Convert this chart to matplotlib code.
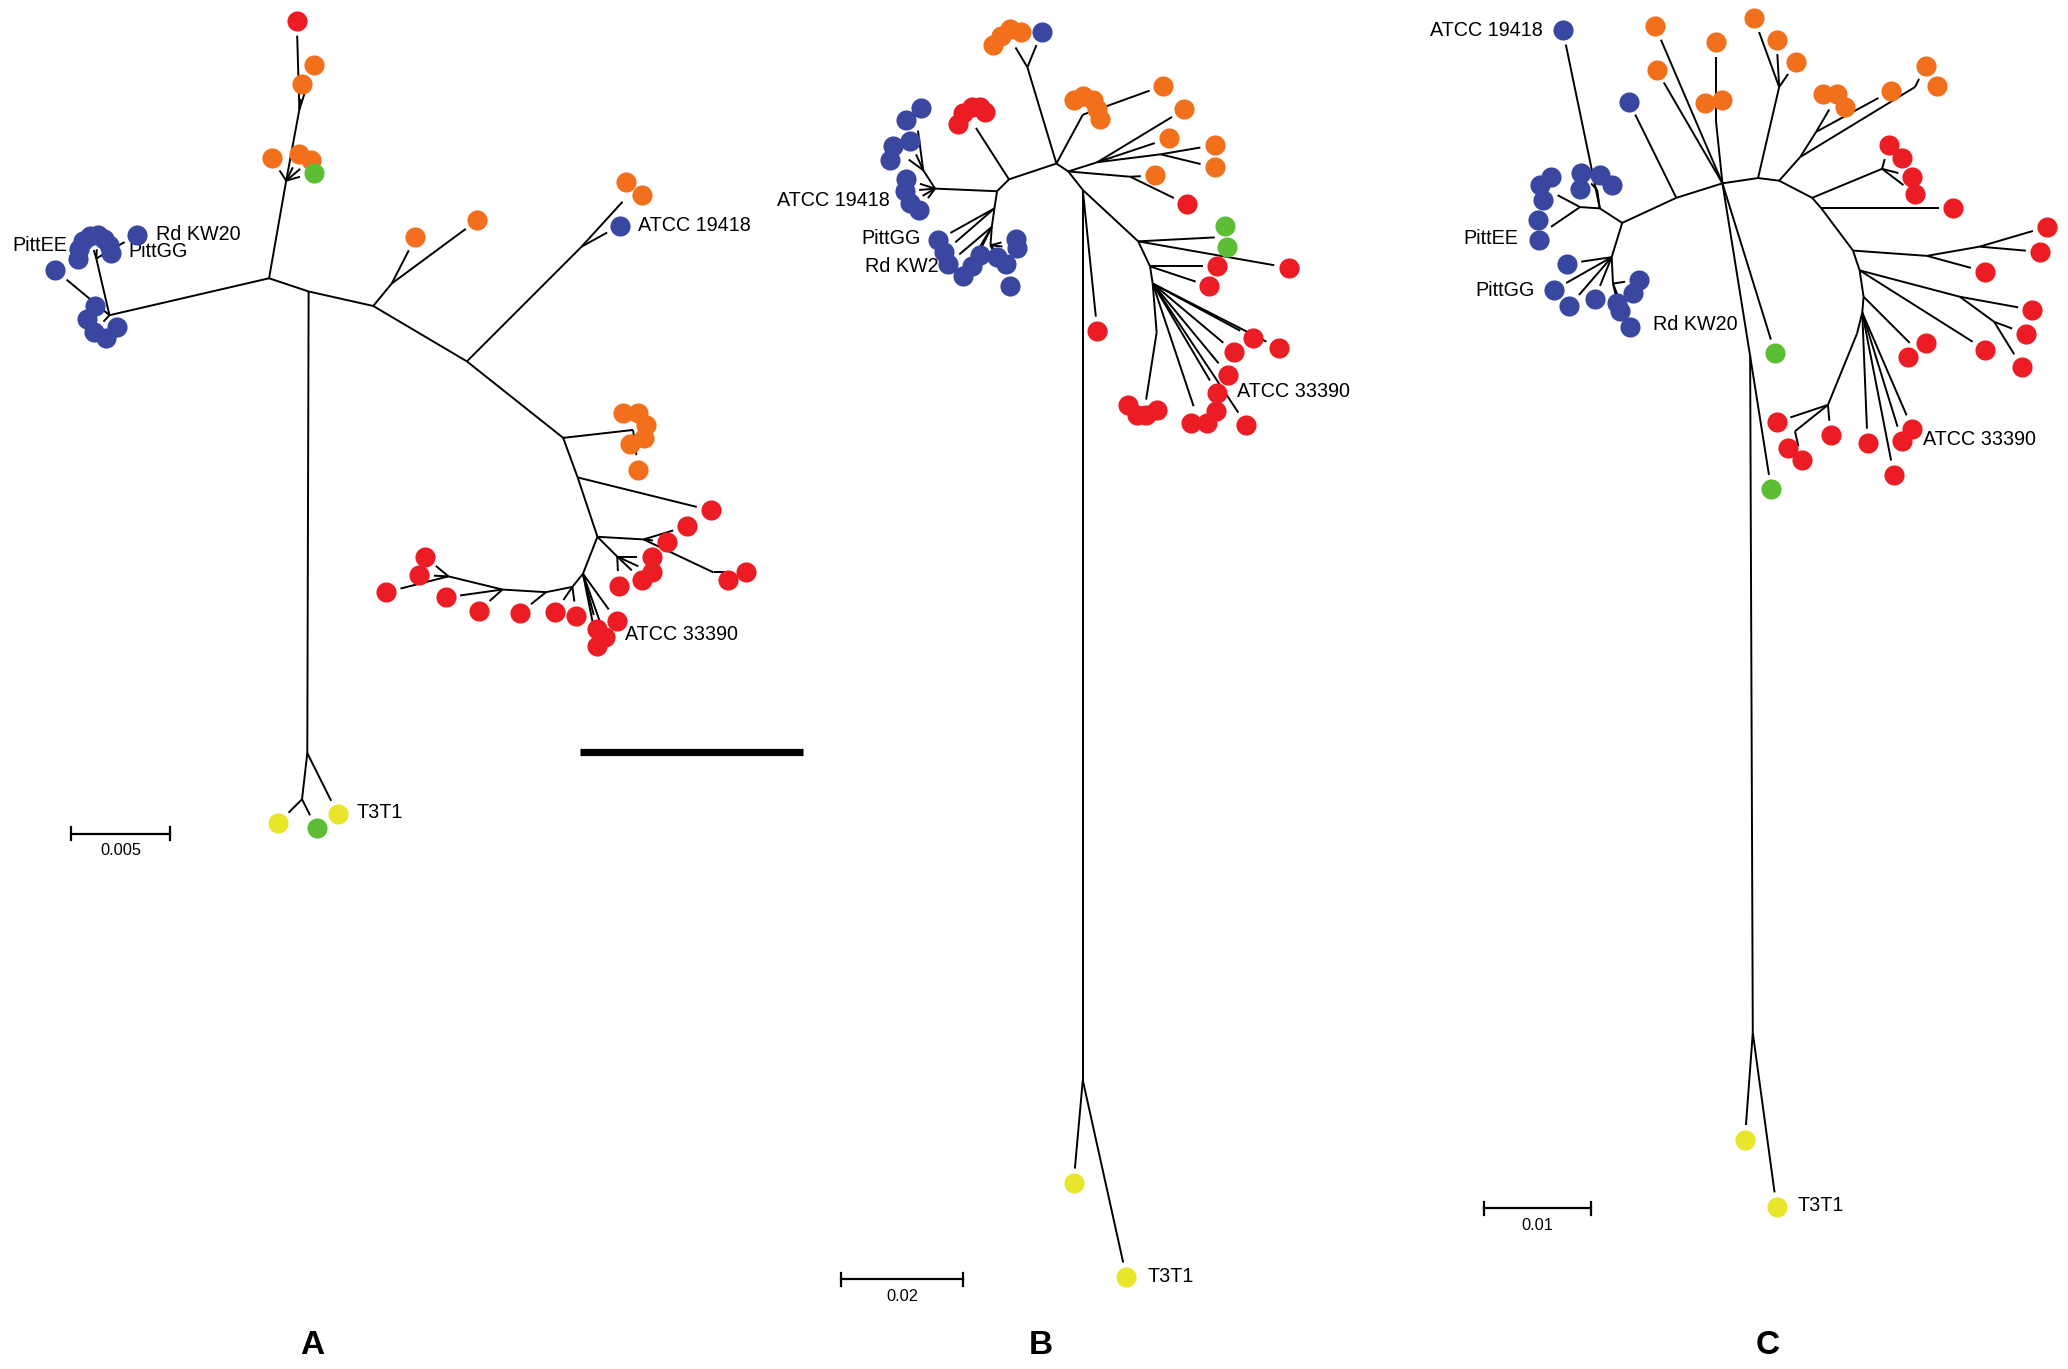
import math
import matplotlib
matplotlib.use("Agg")
from matplotlib import pyplot as plt

# three unrooted trees (A, B, C) - coordinates
# (units = picture pixels at 1568 x 1038, y grows downwards)

COLOURS = {'r': '#EC1C24', 'o': '#F26F1C', 'b': '#3A47A1',
           'g': '#5DBE36', 'y': '#E7E62B'}

# ---------------- panel A ----------------
A_NODES = {
    'a0': (None, 204, 211), 'ab': ('a0', 83, 239), 'ab2': ('ab', 73, 196),
    'au': ('a0', 217, 137), 'au2': ('au', 227, 83),
    'a1': ('a0', 234, 221), 'a2': ('a1', 283, 232), 'a2o': ('a2', 297, 215),
    'a3': ('a2', 354, 274), 'a3b': ('a3', 441, 187), 'a3c': ('a3b', 472, 153),
    'a4': ('a3', 427, 332), 'a4o': ('a4', 480, 326), 'a5': ('a4', 438, 362),
    'a6': ('a5', 453, 407), 'a7': ('a6', 488, 409), 'a7b': ('a7', 541, 434),
    'a6b': ('a6', 468, 422), 'a8': ('a6', 442, 435), 'a9': ('a8', 434, 445),
    'a10': ('a9', 414, 449), 'a11': ('a10', 381, 447), 'a12': ('a11', 340, 437),
    'at1': ('a1', 233, 571), 'at2': ('at1', 229, 606),
}
A_LEAVES = [
    ('ab2', 'b', 59, 196), ('ab2', 'b', 60, 189), ('ab2', 'b', 63, 183),
    ('ab2', 'b', 68, 179), ('ab2', 'b', 74, 178), ('ab2', 'b', 79, 181),
    ('ab2', 'b', 83, 186), ('ab2', 'b', 84, 192), ('ab2', 'b', 104, 178),
    ('ab', 'b', 42, 205), ('ab', 'b', 72, 232), ('ab', 'b', 66, 242),
    ('ab', 'b', 71, 252), ('ab', 'b', 80, 256), ('ab', 'b', 89, 248),
    ('au', 'o', 206, 120), ('au', 'o', 227, 117), ('au', 'o', 236, 121),
    ('au', 'g', 238, 131),
    ('au2', 'r', 225, 16), ('au2', 'o', 229, 64), ('au2', 'o', 238, 49),
    ('a2o', 'o', 315, 180), ('a2o', 'o', 362, 167),
    ('a3b', 'b', 470, 171), ('a3c', 'o', 475, 138), ('a3c', 'o', 487, 148),
    ('a4o', 'o', 472, 313), ('a4o', 'o', 484, 313), ('a4o', 'o', 490, 322),
    ('a4o', 'o', 488, 332), ('a4o', 'o', 478, 337), ('a4o', 'o', 484, 356),
    ('a5', 'r', 539, 387), ('a7', 'r', 521, 399), ('a7', 'r', 506, 411),
    ('a7b', 'r', 552, 440), ('a7b', 'r', 566, 434),
    ('a6b', 'r', 494, 422), ('a6b', 'r', 494, 434), ('a6b', 'r', 487, 440),
    ('a6b', 'r', 469, 444),
    ('a8', 'r', 468, 471), ('a8', 'r', 453, 477), ('a8', 'r', 459, 483),
    ('a8', 'r', 453, 490),
    ('a9', 'r', 437, 467), ('a9', 'r', 421, 464), ('a10', 'r', 394, 465),
    ('a11', 'r', 363, 463), ('a11', 'r', 338, 453),
    ('a12', 'r', 322, 422), ('a12', 'r', 318, 436), ('a12', 'r', 293, 449),
    ('at1', 'y', 256, 617), ('at2', 'y', 211, 624), ('at2', 'g', 240, 628),
]

# ---------------- panel B ----------------
B_NODES = {
    'b0': (None, 801, 124), 'bu': ('b0', 779, 51), 'buo': ('bu', 770, 36),
    'bL1': ('b0', 765, 136), 'bLr': ('bL1', 740, 97), 'bL2': ('bL1', 756, 145),
    'bL3': ('bL2', 709, 143), 'bL4': ('bL3', 700, 129), 'bL5': ('bL4', 689, 121),
    'bL6': ('bL4', 696, 99), 'bL7': ('bL2', 754, 158), 'bL8': ('bL7', 752, 172),
    'bL9': ('bL8', 751, 186),
    'bo1': ('b0', 821, 87), 'bR1': ('b0', 810, 130), 'bR2': ('bR1', 832, 123),
    'bR3': ('bR2', 880, 117), 'bR4': ('bR1', 857, 134),
    'bV': ('bR1', 821, 144), 'bV2': ('bV', 821, 819),
    'bR5': ('bV', 863, 183), 'bG': ('bR5', 921, 180), 'bR6': ('bR5', 872, 202),
    'bR7': ('bR6', 874, 215), 'bR8': ('bR7', 877, 252), 'bR9': ('bR8', 869, 303),
    'bR10': ('bR7', 905, 308),
}
B_LEAVES = [
    ('bu', 'b', 790, 24),
    ('buo', 'o', 753, 34), ('buo', 'o', 759, 27), ('buo', 'o', 766, 22),
    ('buo', 'o', 774, 24),
    ('bLr', 'r', 726, 94), ('bLr', 'r', 730, 86), ('bLr', 'r', 737, 81),
    ('bLr', 'r', 743, 81), ('bLr', 'r', 747, 85),
    ('bL3', 'b', 687, 136), ('bL3', 'b', 686, 145), ('bL3', 'b', 690, 154),
    ('bL3', 'b', 697, 159),
    ('bL5', 'b', 677, 111), ('bL5', 'b', 675, 121), ('bL4', 'b', 690, 107),
    ('bL6', 'b', 687, 91), ('bL6', 'b', 698, 82),
    ('bL7', 'b', 711, 182), ('bL7', 'b', 716, 191),
    ('bL8', 'b', 719, 200), ('bL8', 'b', 730, 209), ('bL8', 'b', 737, 202),
    ('bL9', 'b', 743, 193), ('bL9', 'b', 756, 195), ('bL9', 'b', 763, 200),
    ('bL9', 'b', 770, 181), ('bL9', 'b', 771, 188), ('bL9', 'b', 766, 217),
    ('bo1', 'o', 814, 76), ('bo1', 'o', 821, 73), ('bo1', 'o', 829, 76),
    ('bo1', 'o', 832, 83), ('bo1', 'o', 834, 90), ('bo1', 'o', 882, 65),
    ('bR2', 'o', 898, 83), ('bR2', 'o', 886, 105),
    ('bR3', 'o', 921, 110), ('bR3', 'o', 921, 127),
    ('bR4', 'o', 876, 133), ('bR4', 'r', 900, 155),
    ('bV', 'r', 832, 251),
    ('bV2', 'y', 814, 897), ('bV2', 'y', 854, 968),
    ('bG', 'g', 929, 171), ('bG', 'g', 930, 187),
    ('bR5', 'r', 977, 203), ('bR6', 'r', 923, 202), ('bR6', 'r', 917, 217),
    ('bR7', 'r', 950, 256), ('bR7', 'r', 970, 264), ('bR7', 'r', 936, 267),
    ('bR7', 'r', 931, 284), ('bR7', 'r', 923, 298), ('bR7', 'r', 945, 322),
    ('bR9', 'r', 855, 307), ('bR9', 'r', 862, 315), ('bR9', 'r', 869, 315),
    ('bR9', 'r', 877, 311),
    ('bR10', 'r', 903, 321), ('bR10', 'r', 915, 321), ('bR10', 'r', 922, 312),
]

# ---------------- panel C ----------------
C_NODES = {
    'cH': (None, 1306, 139), 'cA': ('cH', 1271, 150), 'c1': ('cA', 1230, 169),
    'c2': ('c1', 1213, 158), 'c3': ('c2', 1198, 157), 'c3a': ('c3', 1181, 148),
    'c3b': ('c3', 1176, 172), 'c2a': ('c2', 1211, 144), 'c4': ('c1', 1222, 195),
    'c4a': ('c4', 1223, 215), 'c5': ('cH', 1301, 91),
    'cV': ('cH', 1327, 270), 'cT': ('cV', 1329, 783),
    'cB1': ('cH', 1333, 135), 'cB2': ('cB1', 1349, 137), 'cB3': ('cB2', 1374, 150),
    'cB4': ('cB3', 1381, 158), 'cB5': ('cB4', 1405, 190), 'cB6': ('cB5', 1410, 205),
    'cB7': ('cB6', 1413, 225), 'cB8': ('cB7', 1412, 237), 'cB9': ('cB8', 1408, 253),
    'cB10': ('cB9', 1386, 307),
    'cO1': ('cB1', 1349, 66), 'cO2': ('cB2', 1365, 119), 'cO3': ('cO2', 1377, 100),
    'cO4': ('cO3', 1387, 83), 'cO5': ('cO2', 1452, 66),
    'cR1': ('cB3', 1427, 128), 'cR3': ('cB5', 1461, 194), 'cR2': ('cR3', 1501, 187),
    'cR4': ('cB6', 1486, 225), 'cR5': ('cR4', 1512, 244), 'cR6': ('cB7', 1448, 260),
    'cR7': ('cB10', 1361, 327),
}
C_LEAVES = [
    ('cH', 'o', 1255, 20), ('cH', 'o', 1256, 53), ('cH', 'g', 1346, 268),
    ('cA', 'b', 1235, 77), ('c2', 'b', 1185, 23),
    ('c3a', 'b', 1170, 152), ('c3a', 'b', 1168, 140), ('c3a', 'b', 1176, 134),
    ('c3b', 'b', 1166, 167), ('c3b', 'b', 1167, 182),
    ('c2a', 'b', 1199, 131), ('c2a', 'b', 1198, 143), ('c2a', 'b', 1213, 133),
    ('c2a', 'b', 1222, 140),
    ('c4', 'b', 1188, 200), ('c4', 'b', 1178, 220), ('c4', 'b', 1190, 232),
    ('c4', 'b', 1209, 227),
    ('c4a', 'b', 1226, 230), ('c4a', 'b', 1238, 222), ('c4a', 'b', 1243, 212),
    ('c4a', 'b', 1228, 236), ('c4a', 'b', 1236, 248),
    ('cV', 'g', 1343, 371), ('cT', 'y', 1323, 864), ('cT', 'y', 1347, 915),
    ('c5', 'o', 1293, 78), ('c5', 'o', 1306, 76), ('c5', 'o', 1301, 32),
    ('cO1', 'o', 1330, 14), ('cO1', 'o', 1347, 30), ('cO1', 'o', 1362, 47),
    ('cO4', 'o', 1382, 71), ('cO4', 'o', 1393, 71), ('cO4', 'o', 1399, 81),
    ('cO3', 'o', 1434, 69), ('cO5', 'o', 1460, 50), ('cO5', 'o', 1469, 65),
    ('cR1', 'r', 1432, 110), ('cR1', 'r', 1442, 120), ('cR1', 'r', 1450, 134),
    ('cR1', 'r', 1452, 147),
    ('cB4', 'r', 1481, 158), ('cR2', 'r', 1552, 172), ('cR2', 'r', 1547, 191),
    ('cR3', 'r', 1505, 206), ('cR4', 'r', 1541, 235),
    ('cR5', 'r', 1536, 253), ('cR5', 'r', 1533, 278), ('cB6', 'r', 1505, 265),
    ('cR6', 'r', 1447, 271), ('cR6', 'r', 1460, 260),
    ('cB8', 'r', 1450, 325), ('cB8', 'r', 1442, 334), ('cB8', 'r', 1436, 360),
    ('cB8', 'r', 1416, 336),
    ('cB10', 'r', 1388, 330), ('cB10', 'r', 1347, 320),
    ('cR7', 'r', 1356, 340), ('cR7', 'r', 1366, 349),
]

# strain labels: text, x, y, alignment
LABELS = [
    ('PittEE', 51, 186, 'right'), ('Rd KW20', 118, 178, 'left'),
    ('PittGG', 97, 191, 'left'), ('ATCC 19418', 484, 171, 'left'),
    ('ATCC 33390', 474, 481, 'left'), ('T3T1', 270, 616, 'left'),
    ('ATCC 19418', 675, 152, 'right'), ('PittGG', 698, 181, 'right'),
    ('Rd KW20', 656, 202, 'left'), ('ATCC 33390', 938, 297, 'left'),
    ('T3T1', 870, 968, 'left'),
    ('ATCC 19418', 1170, 23, 'right'), ('PittEE', 1151, 181, 'right'),
    ('PittGG', 1164, 220, 'right'), ('Rd KW20', 1253, 246, 'left'),
    ('ATCC 33390', 1458, 333, 'left'), ('T3T1', 1363, 914, 'left'),
]

# scale bars: value, x start, x end, y
SCALE_BARS = [(0.005, 54, 129, 632), (0.02, 638, 730, 970), (0.01, 1125, 1206, 916)]
PANEL_LETTERS = [('A', 237), ('B', 789), ('C', 1340)]

GAP = 11   # space between branch tip and the dot

fig = plt.figure(figsize=(20.68, 13.69), dpi=100)
ax = fig.add_axes([0, 0, 1, 1])
ax.set_xlim(0, 1568)
ax.set_ylim(1038, 0)
ax.axis('off')


def draw_tree(nodes, leaves):
    for name, (par, x, y) in nodes.items():
        if par is not None:
            px, py = nodes[par][1], nodes[par][2]
            ax.plot([px, x], [py, y], color='black', lw=1.4, zorder=1,
                    solid_capstyle='butt')
    for par, col, x, y in leaves:
        px, py = nodes[par][1], nodes[par][2]
        dx, dy = x - px, y - py
        d = math.hypot(dx, dy)
        if d > 1.6 * GAP:
            ax.plot([px, x - dx / d * GAP], [py, y - dy / d * GAP],
                    color='black', lw=1.4, zorder=1, solid_capstyle='butt')
        ax.plot(x, y, 'o', ms=14.5, mec='none', color=COLOURS[col], zorder=3)


draw_tree(A_NODES, A_LEAVES)
draw_tree(B_NODES, B_LEAVES)
draw_tree(C_NODES, C_LEAVES)

for txt, x, y, ha in LABELS:
    ax.text(x, y, txt, ha=ha, va='center', fontsize=14.2,
            family='Liberation Sans', zorder=2)

for val, x0, x1, y in SCALE_BARS:
    ax.plot([x0, x1], [y, y], color='black', lw=1.6)
    ax.plot([x0, x0], [y - 5, y + 5], color='black', lw=1.6)
    ax.plot([x1, x1], [y - 5, y + 5], color='black', lw=1.6)
    ax.text((x0 + x1) / 2, y + 13, f'{val:g}', ha='center', va='center',
            fontsize=11.8, family='Liberation Sans')

# thick black bar in panel A
ax.plot([440, 609], [570, 570], color='black', lw=5.2, solid_capstyle='butt')

for letter, x in PANEL_LETTERS:
    ax.text(x, 1020, letter, ha='center', va='center', fontsize=24,
            fontweight='bold', family='Liberation Sans')

fig.savefig('out.png', dpi=100)
